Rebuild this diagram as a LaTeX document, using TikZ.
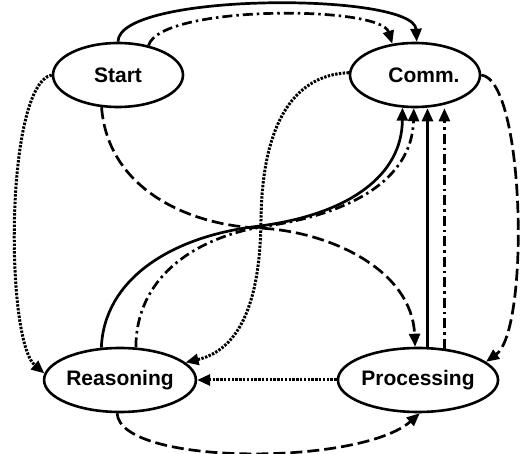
\documentclass[tikz,border=0pt]{standalone}
\usepackage{fontspec}
\setmainfont{Liberation Sans}
\usetikzlibrary{shapes.geometric,arrows.meta}
\tikzset{
  state/.style={ellipse,draw,line width=2.6pt,minimum width=130pt,minimum height=64pt,inner sep=0pt,
    font=\fontsize{21}{25}\selectfont\bfseries},
  conn/.style={line width=2.7pt,-{Triangle[length=13pt,width=11pt]}},
  solidln/.style={conn},
  dashln/.style={conn,dash pattern=on 12pt off 5pt},
  dotln/.style={conn,line width=3pt,dash pattern=on 2.4pt off 1.4pt},
  dashdotln/.style={conn,dash pattern=on 10pt off 4pt on 2.5pt off 4pt},
}
\begin{document}
\begin{tikzpicture}[x=1pt,y=-1pt]
\useasboundingbox (0,0) rectangle (520,454);
\node[state] (start) at (118,75) {Start};
\node[state] (comm) at (415,75) {\hspace*{18pt}Comm.};
\node[state] (reas) at (120,380) {Reasoning};
\node[state] (proc) at (418,380) {Processing};

% Start -> Comm
\draw[solidln] (start.90) .. controls (118,-8) and (414,-8) .. (comm.87);
\draw[dashdotln] (start.44) .. controls (160,5) and (380,5) .. (comm.126);
% Start -> Reasoning
\draw[dotln] (start.180) .. controls (5,85) and (5,340) .. (reas.175);
% Start -> Processing
\draw[dashln] (start.243) .. controls (108,190) and (190,225) .. (258,228)
   .. controls (330,231) and (412,270) .. (proc.95);
% Comm -> Reasoning
\draw[dotln] (comm.178) .. controls (290,75) and (262,130) .. (261,220)
   .. controls (260,320) and (230,352) .. (reas.15);
% Reasoning -> Comm
\draw[solidln] (reas.120) .. controls (104,280) and (170,236) .. (260,226)
   .. controls (350,214) and (402,175) .. (comm.249);
\draw[dashdotln] (reas.64) .. controls (136,280) and (190,240) .. (260,227)
   .. controls (350,215) and (412,180) .. (comm.268);
% Processing -> Comm
\draw[solidln] (proc.74) -- (proc.74 |- comm.south);
\draw[dashdotln] (proc.50) -- (proc.50 |- comm.south);
% Comm -> Processing
\draw[dashln] (comm.0) .. controls (525,80) and (530,330) .. (proc.15);
% Processing -> Reasoning
\draw[dotln] (proc.180) -- (reas.0);
% Reasoning -> Processing
\draw[dashln] (reas.265) .. controls (120,466) and (360,466) .. (proc.273);
\end{tikzpicture}
\end{document}
